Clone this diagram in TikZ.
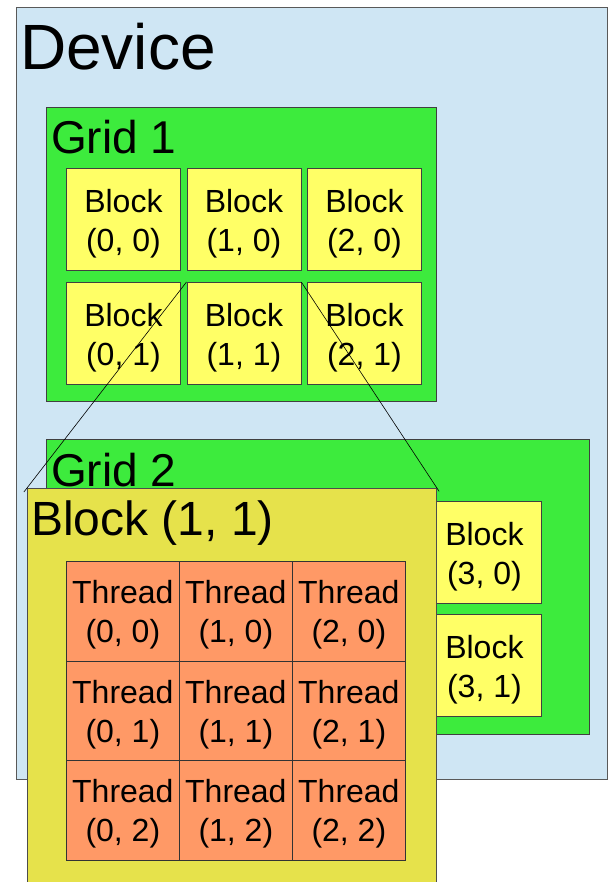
\documentclass[tikz,border=0pt]{standalone}
\usepackage{fontspec}
\setmainfont{Liberation Sans}
\usepackage{tikz}

\definecolor{devblue}{RGB}{207,230,244}
\definecolor{gridgreen}{RGB}{61,235,61}
\definecolor{blockyellow}{RGB}{255,255,102}
\definecolor{bigyellow}{RGB}{230,226,75}
\definecolor{threadorange}{RGB}{255,153,102}

\tikzset{
	blockbox/.style={draw=black!75, line width=0.8pt, fill=blockyellow, anchor=north west,
		minimum width=114pt, minimum height=102pt, inner sep=0pt},
	threadbox/.style={draw=black!80, line width=0.7pt, fill=threadorange, anchor=north west,
		minimum width=113pt, minimum height=99.5pt, inner sep=0pt},
	celltext/.style={inner sep=0pt, align=center, font=\fontsize{32}{39}\selectfont},
	boxlabel/.style={anchor=base west, inner sep=0pt}
}

\begin{document}
\begin{tikzpicture}[x=1pt, y=-1pt]
	
	\useasboundingbox (0,0) rectangle (608,882);
	
	% device
	\draw[fill=devblue, draw=black!65, line width=0.9pt] (16,7) rectangle (607,779);
	\node[boxlabel, font=\fontsize{64}{70}\selectfont] (devlabel) at (20,70) {Device};
	
	% grid 1
	\draw[fill=gridgreen, draw=black!75, line width=0.9pt] (46,107) rectangle (436,401);
	\node[boxlabel, font=\fontsize{46}{52}\selectfont] (g1label) at (51,154) {Grid 1};
	\foreach \i in {0,1,2}
		\foreach \j in {0,1} {
			\node[blockbox] (g1b\i\j) at ({66+120.5*\i}, {168+114*\j}) {};
			\node[celltext] at ([yshift=-4pt]g1b\i\j.center) {Block\\(\i, \j)};
		}
	
	% grid 2
	\draw[fill=gridgreen, draw=black!75, line width=0.9pt] (46,439) rectangle (589,734);
	\node[boxlabel, font=\fontsize{46}{52}\selectfont] (g2label) at (51,486) {Grid 2};
	\node[blockbox] (g2b30) at (427,501) {};
	\node[celltext] at ([yshift=-4pt]g2b30.center) {Block\\(3, 0)};
	\node[blockbox] (g2b31) at (427,614) {};
	\node[celltext] at ([yshift=-4pt]g2b31.center) {Block\\(3, 1)};
	
	% block (1, 1) blown up
	\node[draw=black!70, line width=0.9pt, fill=bigyellow, anchor=north west,
		minimum width=409pt, minimum height=410pt, inner sep=0pt] (blk) at (27,488) {};
	\node[boxlabel, font=\fontsize{48}{54}\selectfont] (blklabel) at (31,535) {Block (1, 1)};
	\foreach \i in {0,1,2}
		\foreach \j in {0,1,2} {
			\node[threadbox] (t\i\j) at ({66+113*\i}, {561+99.5*\j}) {};
			\node[celltext] at ([yshift=-4pt]t\i\j.center) {Thread\\(\i, \j)};
		}
	
	\draw[line width=0.6pt, shorten >=-5pt] (g1b11.north west) -- (blk.north west);
	\draw[line width=0.6pt, shorten >=-4pt] (g1b11.north east) -- (blk.north east);
	

\end{tikzpicture}
\end{document}
